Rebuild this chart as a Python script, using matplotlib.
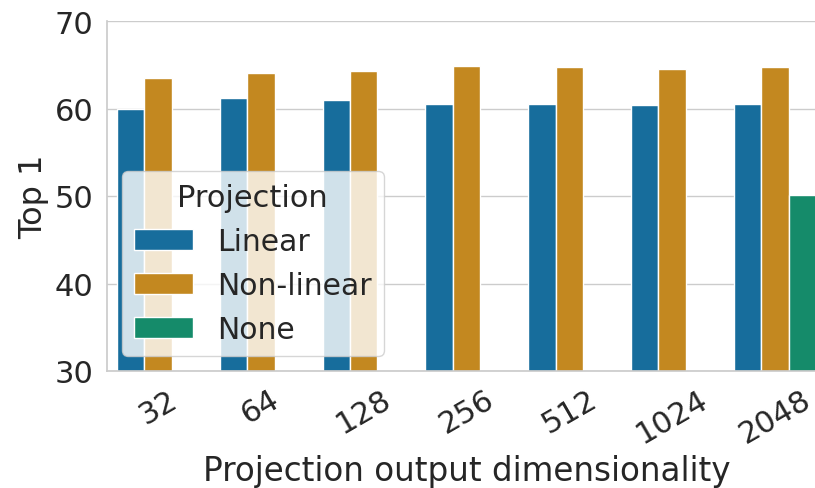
import matplotlib
matplotlib.use('Agg')
import matplotlib.pyplot as plt
import seaborn as sns
import pandas as pd

dims = ['32', '64', '128', '256', '512', '1024', '2048']
linear = [59.9, 61.2, 61.0, 60.5, 60.5, 60.4, 60.5]
nonlinear = [63.5, 64.1, 64.3, 64.85, 64.7, 64.5, 64.7]
none_dim = ['2048']
none_val = [50.1]

rows = []
for d, v in zip(dims, linear):
    rows.append((d, v, 'Linear'))
for d, v in zip(dims, nonlinear):
    rows.append((d, v, 'Non-linear'))
for d, v in zip(none_dim, none_val):
    rows.append((d, v, 'None'))
df = pd.DataFrame(rows, columns=['dim', 'top1', 'Projection'])

sns.set_theme(style='whitegrid', palette='colorblind')
plt.rcParams['font.family'] = ['DejaVu Sans']

fig = plt.figure(figsize=(8.15, 4.89), dpi=100)
ax = fig.add_axes([106.7 / 815, 117 / 489, 719.6 / 815, 350 / 489])

sns.barplot(data=df, x='dim', y='top1', hue='Projection', order=dims,
            hue_order=['Linear', 'Non-linear', 'None'], ax=ax)

ax.set_ylim(30, 70)
ax.set_xlim(-0.5, 6.5)
ax.set_yticks([30, 40, 50, 60, 70])
ax.tick_params(axis='both', labelsize=22)
plt.setp(ax.get_xticklabels(), rotation=30)
ax.set_xlabel('Projection output dimensionality', fontsize=23.5)
ax.set_ylabel('Top 1', fontsize=23)
sns.despine(ax=ax)

leg = ax.legend(title='Projection', loc='lower left', fontsize=21.5, title_fontsize=22)

fig.savefig('out.png', dpi=100)
